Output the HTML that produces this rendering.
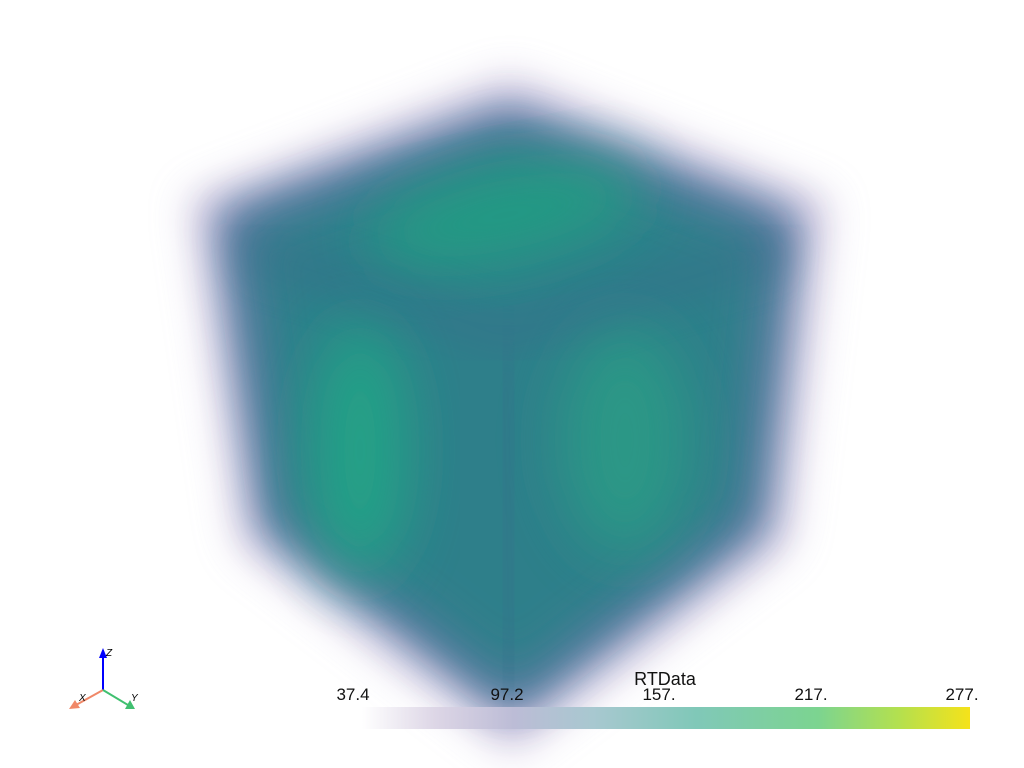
<!DOCTYPE html>
<html><head><meta charset="utf-8"><style>
html,body{margin:0;padding:0;background:#fff;width:1024px;height:768px;overflow:hidden}
svg{display:block}
text{font-family:"Liberation Sans",sans-serif}
</style></head><body>
<svg width="1024" height="768" viewBox="0 0 1024 768">
<defs>
<filter id="b30" x="-30%" y="-30%" width="160%" height="160%"><feGaussianBlur stdDeviation="20"/></filter>
<filter id="b20" x="-30%" y="-30%" width="160%" height="160%"><feGaussianBlur stdDeviation="24"/></filter>
<filter id="b40" x="-50%" y="-50%" width="200%" height="200%"><feGaussianBlur stdDeviation="30"/></filter>
<linearGradient id="cb" x1="0" x2="1" y1="0" y2="0">
<stop offset="0" stop-color="#ffffff"/>
<stop offset="0.12" stop-color="#ddd6e6"/>
<stop offset="0.25" stop-color="#bcbcd6"/>
<stop offset="0.38" stop-color="#a8c8d0"/>
<stop offset="0.55" stop-color="#80c8b8"/>
<stop offset="0.75" stop-color="#7cd490"/>
<stop offset="0.88" stop-color="#b2e050"/>
<stop offset="1" stop-color="#f5e21a"/>
</linearGradient>
</defs>
<g>
<polygon points="510,75 830,200 790,545 512,755 238,545 188,198" fill="#c4b8da" opacity="0.7" filter="url(#b30)"/>
<polygon points="510,105 800,215 765,530 512,720 262,530 215,212" fill="#52709c" opacity="0.9" filter="url(#b30)"/>
<polygon points="510,135 770,232 742,515 512,690 282,515 245,228" fill="#2e7f8a" filter="url(#b20)"/>
<ellipse cx="505" cy="215" rx="140" ry="45" fill="#24a382" opacity="0.8" filter="url(#b40)" transform="rotate(-12 505 215)"/>
<ellipse cx="360" cy="450" rx="50" ry="130" fill="#20a886" opacity="0.85" filter="url(#b40)"/>
<ellipse cx="625" cy="440" rx="65" ry="115" fill="#2aa085" opacity="0.75" filter="url(#b40)"/>
<polyline points="250,250 505,335 780,250" fill="none" stroke="#3a6a8c" stroke-width="30" opacity="0.45" filter="url(#b30)"/>
<line x1="505" y1="345" x2="512" y2="680" stroke="#34708c" stroke-width="36" opacity="0.4" filter="url(#b30)"/>
</g>
<g>
<line x1="103" y1="690" x2="103" y2="655" stroke="#0000ff" stroke-width="2"/>
<polygon points="103,648 99,658 107,658" fill="#0000ff"/>
<text x="106" y="656" font-size="10" font-style="italic" fill="#000">Z</text>
<line x1="103" y1="690" x2="76" y2="705" stroke="#f08868" stroke-width="2"/>
<polygon points="69,709 75,700 80,708" fill="#f08868"/>
<text x="79" y="701" font-size="10" font-style="italic" fill="#000">X</text>
<line x1="103" y1="690" x2="128" y2="705" stroke="#40c070" stroke-width="2"/>
<polygon points="135,709 125,709 130,700" fill="#40c070"/>
<text x="131" y="701" font-size="10" font-style="italic" fill="#000">Y</text>
</g>
<g>
<rect x="362" y="707" width="608" height="22" fill="url(#cb)"/>
<text x="665" y="685" font-size="18" text-anchor="middle" fill="#111">RTData</text>
<g font-size="17" fill="#111" text-anchor="middle">
<text x="353" y="700">37.4</text>
<text x="507" y="700">97.2</text>
<text x="659" y="700">157.</text>
<text x="811" y="700">217.</text>
<text x="962" y="700">277.</text>
</g>
</g>
</svg>
</body></html>
